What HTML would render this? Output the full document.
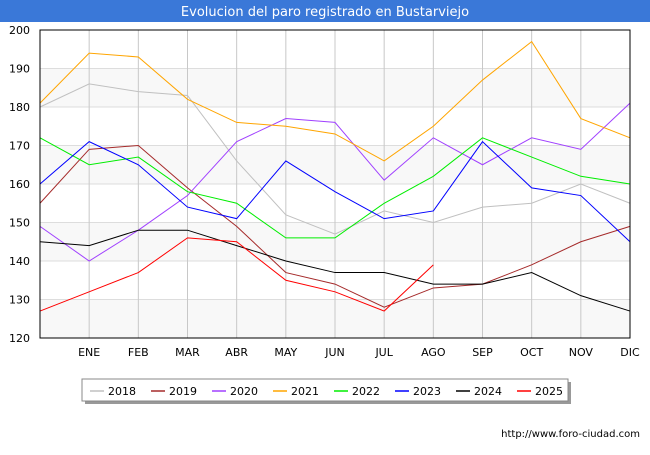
<!DOCTYPE html>
<html><head><meta charset="utf-8"><style>
body{margin:0;width:650px;height:450px;background:#fff;font-family:"Liberation Sans","DejaVu Sans",sans-serif;overflow:hidden}
</style></head><body>
<svg width="650" height="450" xmlns="http://www.w3.org/2000/svg">
<rect x="0" y="0" width="650" height="22" fill="#3a78d8"/>
<text x="325" y="16" text-anchor="middle" fill="#fff" font-size="13" font-family="DejaVu Sans, sans-serif">Evolucion del paro registrado en Bustarviejo</text>
<g id="grid"></g>
<g id="series"></g>
<rect x="40" y="30" width="590" height="308" fill="none" stroke="#000" stroke-width="1"/>
<g id="axes" font-size="11" font-family="DejaVu Sans, sans-serif" fill="#000"></g>
<rect x="85" y="382" width="486" height="22" fill="#999"/>
<rect x="82" y="379" width="486" height="22" fill="#fff" stroke="#888"/>
<g id="legend" font-size="11" font-family="DejaVu Sans, sans-serif"></g>
<text x="640" y="437" text-anchor="end" font-size="10" font-family="DejaVu Sans, sans-serif">http://www.foro-ciudad.com</text>
</svg>
<script>
const months=["","ENE","FEB","MAR","ABR","MAY","JUN","JUL","AGO","SEP","OCT","NOV","DIC"];
const yTicks=[120,130,140,150,160,170,180,190,200];
const years=["2018","2019","2020","2021","2022","2023","2024","2025"];
const colors=["#c0c0c0","#a52a2a","#a040ff","#ffa500","#00ee00","#0000ff","#000000","#ff0000"];
const v2018=[180,186,184,183,166,152,147,153,150,154,155,160,155];
const v2019=[155,169,170,159,149,137,134,128,133,134,139,145,149];
const v2020=[149,140,148,157,171,177,176,161,172,165,172,169,181];
const v2021=[181,194,193,182,176,175,173,166,175,187,197,177,172];
const v2022=[172,165,167,158,155,146,146,155,162,172,167,162,160];
const v2023=[160,171,165,154,151,166,158,151,153,171,159,157,145];
const v2024=[145,144,148,148,144,140,137,137,134,134,137,131,127];
const v2025=[127,132,137,146,145,135,132,127,139];
const series=[v2018,v2019,v2020,v2021,v2022,v2023,v2024,v2025];
const NS="http://www.w3.org/2000/svg";
const xs=i=>40+i*49.1667;
const ys=v=>338-(v-120)*3.85;
const grid=document.getElementById('grid'),axes=document.getElementById('axes'),sg=document.getElementById('series'),lg=document.getElementById('legend');
function mk(t,a,p){const e=document.createElementNS(NS,t);for(const k in a)e.setAttribute(k,a[k]);p.appendChild(e);return e;}
for(let i=0;i<yTicks.length-1;i++){if(i%2==0){const r=mk('rect',{x:40,y:ys(yTicks[i+1]),width:590,height:ys(yTicks[i])-ys(yTicks[i+1]),fill:'#f8f8f8'},grid);

}}
yTicks.forEach(t=>{const l=mk('line',{x1:40,x2:630,y1:ys(t),y2:ys(t),stroke:'#ddd'},grid);


const tx=mk('text',{x:30,y:ys(t)+4,'text-anchor':'end'},axes);tx.textContent=t;

});
months.forEach((m,i)=>{if(i>0){const l=mk('line',{x1:xs(i),x2:xs(i),y1:30,y2:338,stroke:'#c8c8c8'},grid);

}
const tx=mk('text',{x:xs(i),y:356,'text-anchor':'middle'},axes);tx.textContent=m;

});
series.forEach((s,k)=>{const p=mk('polyline',{points:s.map((v,i)=>xs(i)+','+ys(v)).join(' '),fill:'none',stroke:colors[k],'stroke-width':1},sg);

});
years.forEach((y,k)=>{const x0=90+k*61;
const l=mk('line',{x1:x0,x2:x0+14,y1:391,y2:391,stroke:colors[k],'stroke-width':1.5},lg);


const t=mk('text',{x:x0+18,y:395},lg);t.textContent=y;

});
</script>
</body></html>
